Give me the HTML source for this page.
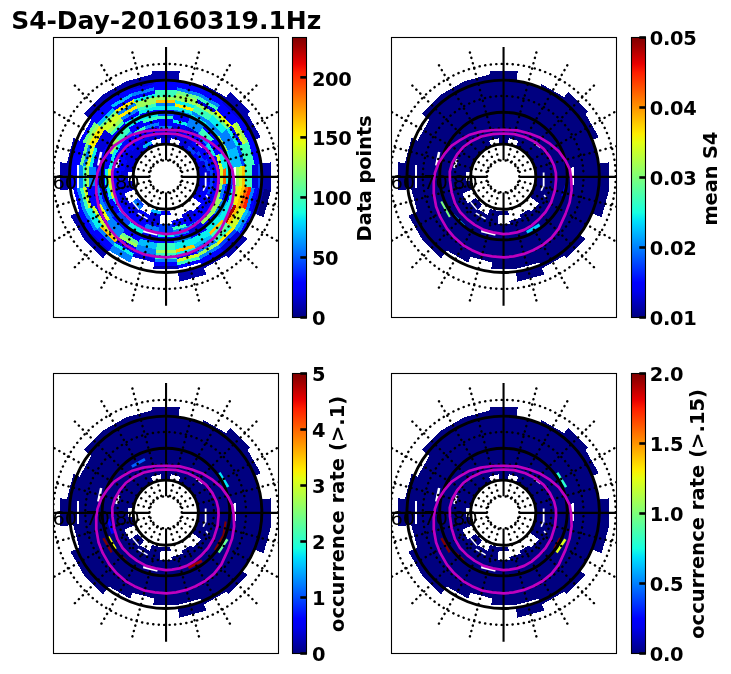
<!DOCTYPE html>
<html><head><meta charset="utf-8"><title>S4-Day-20160319.1Hz</title>
<style>
html,body{margin:0;padding:0;background:#fff;}
body{width:731px;height:674px;overflow:hidden;}
svg{display:block;}
text{font-family:"DejaVu Sans","Liberation Sans",sans-serif;fill:#000;}
.ti{font-size:25px;font-weight:bold;letter-spacing:-0.045px;}
.tk{font-size:19.44px;font-weight:bold;letter-spacing:-0.3px;}
.lb{font-size:19.44px;font-weight:bold;letter-spacing:-0.1px;}
.lat{font-size:19.44px;font-weight:normal;}
</style></head><body>
<svg width="731" height="674" viewBox="0 0 731 674">
<rect width="731" height="674" fill="#fff"/>
<defs><linearGradient id="jet" x1="0" y1="0" x2="0" y2="1"><stop offset="0.0000" stop-color="#800000"/><stop offset="0.0312" stop-color="#9f0000"/><stop offset="0.0625" stop-color="#c40000"/><stop offset="0.0938" stop-color="#e80000"/><stop offset="0.1250" stop-color="#ff1e00"/><stop offset="0.1562" stop-color="#ff3b00"/><stop offset="0.1875" stop-color="#ff5900"/><stop offset="0.2188" stop-color="#ff7700"/><stop offset="0.2500" stop-color="#ff9400"/><stop offset="0.2812" stop-color="#ffb200"/><stop offset="0.3125" stop-color="#ffd000"/><stop offset="0.3438" stop-color="#feed00"/><stop offset="0.3750" stop-color="#e4ff13"/><stop offset="0.4062" stop-color="#caff2c"/><stop offset="0.4375" stop-color="#b1ff46"/><stop offset="0.4688" stop-color="#97ff60"/><stop offset="0.5000" stop-color="#7dff7a"/><stop offset="0.5312" stop-color="#63ff94"/><stop offset="0.5625" stop-color="#49ffad"/><stop offset="0.5938" stop-color="#30ffc7"/><stop offset="0.6250" stop-color="#16ffe1"/><stop offset="0.6562" stop-color="#00e0fb"/><stop offset="0.6875" stop-color="#00c0ff"/><stop offset="0.7188" stop-color="#00a0ff"/><stop offset="0.7500" stop-color="#0080ff"/><stop offset="0.7812" stop-color="#0060ff"/><stop offset="0.8125" stop-color="#0040ff"/><stop offset="0.8438" stop-color="#0020ff"/><stop offset="0.8750" stop-color="#0000ff"/><stop offset="0.9062" stop-color="#0000ed"/><stop offset="0.9375" stop-color="#0000c8"/><stop offset="0.9688" stop-color="#0000a4"/><stop offset="1.0000" stop-color="#000080"/></linearGradient>
<clipPath id="c1"><rect x="53.5" y="37.5" width="225" height="280"/></clipPath>
<clipPath id="c2"><rect x="391.5" y="37.5" width="225" height="280"/></clipPath>
<clipPath id="c3"><rect x="53.5" y="373.5" width="225" height="280"/></clipPath>
<clipPath id="c4"><rect x="391.5" y="373.5" width="225" height="280"/></clipPath>
</defs>
<g clip-path="url(#c1)">
<g shape-rendering="crispEdges"><polygon fill="#0000da" points="161.4,144.65 160.52,138.04 170.78,138.04 169.9,144.65"/><polygon fill="#0000ad" points="160.55,138.28 160.09,134.86 171.21,134.86 170.75,138.28"/><polygon fill="#0000da" points="160.12,135.09 159.24,128.48 172.06,128.48 171.18,135.09"/><polygon fill="#0080ff" points="159.27,128.72 158.81,125.3 172.49,125.3 172.03,128.72"/><polygon fill="#0000ff" points="158.84,125.53 157.96,118.92 173.34,118.92 172.46,125.53"/><polygon fill="#39ffbe" points="157.99,119.16 157.53,115.74 173.77,115.74 173.31,119.16"/><polygon fill="#0040ff" points="157.57,115.97 157.11,112.55 174.19,112.55 173.73,115.97"/><polygon fill="#0000ff" points="157.14,112.79 156.68,109.36 174.62,109.36 174.16,112.79"/><polygon fill="#09f0ee" points="156.71,109.6 156.26,106.18 175.04,106.18 174.59,109.6"/><polygon fill="#0080ff" points="156.29,106.41 155.83,102.99 175.47,102.99 175.01,106.41"/><polygon fill="#ffc100" points="155.86,103.23 155.4,99.8 175.9,99.8 175.44,103.23"/><polygon fill="#9dff5a" points="155.43,100.04 154.98,96.62 176.32,96.62 175.87,100.04"/><polygon fill="#39ffbe" points="155.01,96.85 154.12,90.24 177.18,90.24 176.29,96.85"/><polygon fill="#0000ff" points="154.16,90.48 152.84,80.68 178.46,80.68 177.14,90.48"/><polygon fill="#0000ad" points="152.88,80.92 151.57,71.12 179.73,71.12 178.42,80.92"/><polygon fill="#0000da" points="170.59,138.26 172.27,125.27 185.48,128.81 180.44,140.9"/><polygon fill="#0000ff" points="172.24,125.51 172.69,122.08 186.72,125.84 185.39,129.03"/><polygon fill="#09f0ee" points="172.65,122.32 173.1,118.89 187.95,122.87 186.63,126.06"/><polygon fill="#0000ff" points="173.07,119.13 173.92,112.51 190.43,116.94 187.86,123.09"/><polygon fill="#0080ff" points="173.89,112.75 174.34,109.33 191.66,113.97 190.33,117.16"/><polygon fill="#09f0ee" points="174.31,109.56 174.75,106.14 192.9,111 191.57,114.19"/><polygon fill="#feed00" points="174.72,106.37 175.16,102.95 194.14,108.03 192.81,111.22"/><polygon fill="#09f0ee" points="175.13,103.19 175.58,99.76 195.37,105.06 194.04,108.25"/><polygon fill="#9dff5a" points="175.55,100 176.4,93.38 197.85,99.13 195.28,105.29"/><polygon fill="#6aff8d" points="176.37,93.62 176.82,90.2 199.08,96.16 197.75,99.35"/><polygon fill="#0080ff" points="176.78,90.43 177.23,87.01 200.32,93.19 198.99,96.38"/><polygon fill="#0000ff" points="177.2,87.24 178.05,80.63 202.79,87.26 200.23,93.42"/><polygon fill="#0000da" points="177.85,146.78 182.83,134.67 193.2,140.65 185.2,151.03"/><polygon fill="#0000ff" points="182.74,134.89 185.28,128.72 197.12,135.56 193.05,140.84"/><polygon fill="#0000da" points="185.19,128.95 186.51,125.75 199.09,133.01 196.98,135.75"/><polygon fill="#0080ff" points="186.41,125.97 190.18,116.83 204.97,125.37 198.94,133.2"/><polygon fill="#09f0ee" points="190.09,117.05 191.4,113.86 206.94,122.83 204.83,125.56"/><polygon fill="#0080ff" points="191.31,114.08 192.63,110.89 208.9,120.28 206.79,123.02"/><polygon fill="#39ffbe" points="192.53,111.11 195.07,104.94 212.82,115.19 208.75,120.47"/><polygon fill="#9dff5a" points="194.98,105.16 196.3,101.97 214.79,112.64 212.68,115.38"/><polygon fill="#0000da" points="196.21,102.19 197.52,99 216.75,110.1 214.64,112.83"/><polygon fill="#39ffbe" points="197.43,99.22 198.75,96.02 218.71,107.55 216.6,110.29"/><polygon fill="#0080ff" points="198.66,96.24 199.97,93.05 220.67,105 218.56,107.74"/><polygon fill="#0000ff" points="199.88,93.27 202.42,87.1 224.6,99.91 220.53,105.19"/><polygon fill="#0000ad" points="202.33,87.33 203.64,84.13 226.56,97.36 224.45,100.1"/><polygon fill="#0000da" points="185.1,150.95 187.19,148.2 193.85,154.86 191.1,156.95"/><polygon fill="#0040ff" points="187.05,148.39 189.14,145.65 196.4,152.91 193.66,155"/><polygon fill="#0000da" points="189,145.84 191.1,143.09 198.96,150.95 196.21,153.05"/><polygon fill="#0000ff" points="190.95,143.28 196.95,135.43 206.62,145.1 198.77,151.1"/><polygon fill="#0080ff" points="196.81,135.62 198.9,132.87 209.18,143.15 206.43,145.24"/><polygon fill="#39ffbe" points="198.76,133.07 202.81,127.76 214.29,139.24 208.98,143.29"/><polygon fill="#0000ff" points="202.66,127.96 204.76,125.21 216.84,137.29 214.09,139.39"/><polygon fill="#00bcff" points="204.61,125.4 206.71,122.66 219.39,135.34 216.65,137.44"/><polygon fill="#0080ff" points="206.57,122.85 208.66,120.1 221.95,133.39 219.2,135.48"/><polygon fill="#09f0ee" points="208.52,120.29 212.57,114.99 227.06,129.48 221.76,133.53"/><polygon fill="#6aff8d" points="212.42,115.18 214.52,112.44 229.61,127.53 226.87,129.63"/><polygon fill="#ebff0c" points="214.37,112.63 216.47,109.88 232.17,125.58 229.42,127.68"/><polygon fill="#0000ff" points="216.32,110.07 222.33,102.22 239.83,119.72 231.98,125.73"/><polygon fill="#0000da" points="222.18,102.41 224.28,99.66 242.39,117.77 239.64,119.87"/><polygon fill="#0000ad" points="224.13,99.85 230.13,92 250.05,111.92 242.2,117.92"/><polygon fill="#0000da" points="191.02,156.85 193.76,154.74 198.46,162.89 195.27,164.2"/><polygon fill="#0000ff" points="193.57,154.89 196.3,152.78 201.44,161.67 198.24,162.98"/><polygon fill="#0040ff" points="196.11,152.92 198.85,150.81 204.41,160.44 201.21,161.76"/><polygon fill="#0000ff" points="198.66,150.96 203.94,146.89 210.35,157.99 204.19,160.53"/><polygon fill="#00bcff" points="203.75,147.04 206.49,144.93 213.33,156.77 210.13,158.08"/><polygon fill="#09f0ee" points="206.3,145.07 209.04,142.96 216.3,155.54 213.1,156.86"/><polygon fill="#0000ff" points="208.85,143.11 216.68,137.08 225.22,151.87 216.08,155.64"/><polygon fill="#9dff5a" points="216.49,137.22 219.22,135.11 228.19,150.65 225,151.96"/><polygon fill="#0080ff" points="219.03,135.26 226.86,129.23 237.11,146.98 227.97,150.74"/><polygon fill="#09f0ee" points="226.67,129.37 229.41,127.26 240.08,145.75 236.89,147.07"/><polygon fill="#0000ff" points="229.22,127.41 231.95,125.3 243.05,144.53 239.86,145.84"/><polygon fill="#ceff29" points="231.76,125.45 234.5,123.34 246.03,143.3 242.83,144.62"/><polygon fill="#9dff5a" points="234.31,123.49 237.05,121.38 249,142.08 245.81,143.39"/><polygon fill="#0000ff" points="236.86,121.52 242.14,117.45 254.95,139.63 248.78,142.17"/><polygon fill="#0000ad" points="241.95,117.6 247.23,113.53 260.89,137.18 254.72,139.72"/><polygon fill="#0000da" points="195.22,164.08 204.34,160.28 207.22,171.02 197.41,172.29"/><polygon fill="#0040ff" points="204.12,160.37 207.31,159.04 210.41,170.6 206.98,171.05"/><polygon fill="#0000ff" points="207.09,159.13 216.21,155.33 219.97,169.36 210.17,170.63"/><polygon fill="#ceff29" points="215.99,155.42 219.18,154.1 223.16,168.95 219.73,169.4"/><polygon fill="#09f0ee" points="218.96,154.19 228.08,150.39 232.72,167.71 222.92,168.98"/><polygon fill="#00bcff" points="227.86,150.48 236.99,146.68 242.29,166.47 232.49,167.74"/><polygon fill="#0040ff" points="236.76,146.77 239.95,145.44 245.48,166.06 242.05,166.5"/><polygon fill="#39ffbe" points="239.73,145.53 248.86,141.73 255.04,164.82 245.24,166.09"/><polygon fill="#0000ff" points="248.63,141.82 254.79,139.26 261.42,164 254.81,164.85"/><polygon fill="#0000da" points="197.4,172.15 210.38,170.42 210.38,182.38 197.4,180.65"/><polygon fill="#0040ff" points="210.14,170.45 213.57,169.99 213.57,182.81 210.14,182.35"/><polygon fill="#0000ff" points="213.33,170.02 216.75,169.56 216.75,183.24 213.33,182.78"/><polygon fill="#0040ff" points="216.52,169.59 219.94,169.14 219.94,183.66 216.52,183.21"/><polygon fill="#ceff29" points="219.7,169.17 223.13,168.71 223.13,184.09 219.7,183.63"/><polygon fill="#ff6800" points="222.89,168.74 226.31,168.28 226.31,184.52 222.89,184.06"/><polygon fill="#09f0ee" points="226.08,168.32 229.5,167.86 229.5,184.94 226.08,184.48"/><polygon fill="#0040ff" points="229.26,167.89 232.69,167.43 232.69,185.37 229.26,184.91"/><polygon fill="#9dff5a" points="235.64,167.04 239.06,166.58 239.06,186.22 235.64,185.76"/><polygon fill="#ceff29" points="238.82,166.61 242.25,166.15 242.25,186.65 238.82,186.19"/><polygon fill="#ffc100" points="242.01,166.18 245.43,165.73 245.43,187.07 242.01,186.62"/><polygon fill="#39ffbe" points="245.2,165.76 251.81,164.87 251.81,187.93 245.2,187.04"/><polygon fill="#0000da" points="251.57,164.91 258.18,164.02 258.18,188.78 251.57,187.89"/><polygon fill="#0040ff" points="257.94,164.05 261.37,163.59 261.37,189.21 257.94,188.75"/><polygon fill="#0000ad" points="261.13,163.63 270.93,162.32 270.93,190.48 261.13,189.17"/><polygon fill="#0000da" points="197.41,180.51 207.22,181.78 204.34,192.52 195.22,188.72"/><polygon fill="#0000ff" points="206.98,181.75 210.41,182.2 207.31,193.76 204.12,192.43"/><polygon fill="#0040ff" points="210.17,182.17 213.59,182.61 210.28,194.99 207.09,193.67"/><polygon fill="#0000ff" points="213.36,182.58 219.97,183.44 216.21,197.47 210.05,194.9"/><polygon fill="#9dff5a" points="219.73,183.4 223.16,183.85 219.18,198.7 215.99,197.38"/><polygon fill="#0080ff" points="222.92,183.82 226.35,184.26 222.15,199.94 218.96,198.61"/><polygon fill="#0000ff" points="226.11,184.23 232.72,185.09 228.08,202.41 221.93,199.85"/><polygon fill="#09f0ee" points="232.49,185.06 235.91,185.5 231.05,203.65 227.86,202.32"/><polygon fill="#ceff29" points="235.68,185.47 239.1,185.91 234.02,204.89 230.83,203.56"/><polygon fill="#feed00" points="238.86,185.88 242.29,186.33 236.99,206.12 233.8,204.79"/><polygon fill="#ffc100" points="242.05,186.3 245.48,186.74 239.95,207.36 236.76,206.03"/><polygon fill="#ff6800" points="245.24,186.71 248.67,187.15 242.92,208.6 239.73,207.27"/><polygon fill="#ff1a00" points="248.43,187.12 251.85,187.57 245.89,209.83 242.7,208.5"/><polygon fill="#0080ff" points="251.62,187.53 255.04,187.98 248.86,211.07 245.67,209.74"/><polygon fill="#0000ff" points="254.81,187.95 258.23,188.39 251.82,212.31 248.63,210.98"/><polygon fill="#0000da" points="257.99,188.36 261.42,188.8 254.79,213.54 251.6,212.21"/><polygon fill="#0000ad" points="261.18,188.77 264.61,189.22 257.76,214.78 254.57,213.45"/><polygon fill="#000080" points="264.37,189.19 270.99,190.04 263.69,217.25 257.54,214.69"/><polygon fill="#0000da" points="195.27,188.6 201.44,191.13 196.3,200.02 191.02,195.95"/><polygon fill="#0000ff" points="201.21,191.04 210.35,194.81 203.94,205.91 196.11,199.88"/><polygon fill="#0000da" points="210.13,194.72 213.33,196.03 206.49,207.87 203.75,205.76"/><polygon fill="#0000ff" points="213.1,195.94 216.3,197.26 209.04,209.84 206.3,207.73"/><polygon fill="#9dff5a" points="216.08,197.16 222.24,199.7 214.13,213.76 208.85,209.69"/><polygon fill="#0080ff" points="222.02,199.61 225.22,200.93 216.68,215.72 213.94,213.61"/><polygon fill="#00bcff" points="225,200.84 228.19,202.15 219.22,217.69 216.49,215.58"/><polygon fill="#09f0ee" points="227.97,202.06 234.14,204.6 224.32,221.61 219.03,217.54"/><polygon fill="#ad0000" points="233.91,204.51 237.11,205.82 226.86,223.57 224.13,221.46"/><polygon fill="#ffc100" points="236.89,205.73 240.08,207.05 229.41,225.54 226.67,223.43"/><polygon fill="#ceff29" points="239.86,206.96 246.03,209.5 234.5,229.46 229.22,225.39"/><polygon fill="#00bcff" points="245.81,209.41 249,210.72 237.05,231.42 234.31,229.31"/><polygon fill="#0080ff" points="248.78,210.63 251.97,211.94 239.59,233.39 236.86,231.28"/><polygon fill="#0000ff" points="251.75,211.85 254.95,213.17 242.14,235.35 239.4,233.24"/><polygon fill="#0000ff" points="201.32,203.65 209.18,209.65 198.9,219.93 192.9,212.07"/><polygon fill="#0080ff" points="208.98,209.51 211.73,211.61 200.86,222.48 198.76,219.73"/><polygon fill="#9dff5a" points="211.54,211.46 214.29,213.56 202.81,225.04 200.71,222.29"/><polygon fill="#0000ff" points="214.09,213.41 216.84,215.51 204.76,227.59 202.66,224.84"/><polygon fill="#09f0ee" points="216.65,215.36 221.95,219.41 208.66,232.7 204.61,227.4"/><polygon fill="#ffc100" points="221.76,219.27 224.5,221.36 210.61,235.25 208.52,232.51"/><polygon fill="#39ffbe" points="224.31,221.22 227.06,223.32 212.57,237.81 210.47,235.06"/><polygon fill="#6aff8d" points="226.87,223.17 229.61,225.27 214.52,240.36 212.42,237.62"/><polygon fill="#39ffbe" points="229.42,225.12 232.17,227.22 216.47,242.92 214.37,240.17"/><polygon fill="#feed00" points="231.98,227.07 234.72,229.17 218.42,245.47 216.32,242.73"/><polygon fill="#0040ff" points="234.53,229.03 237.28,231.12 220.37,248.03 218.28,245.28"/><polygon fill="#0000da" points="237.09,230.98 242.39,235.03 224.28,253.14 220.23,247.84"/><polygon fill="#0000ad" points="242.2,234.88 247.5,238.93 228.18,258.25 224.13,252.95"/><polygon fill="#0000da" points="191.09,209.41 195.16,214.69 184.06,221.1 181.52,214.94"/><polygon fill="#0000ff" points="195.01,214.5 199.09,219.79 186.51,227.05 183.97,220.88"/><polygon fill="#0080ff" points="198.94,219.6 201.05,222.33 187.73,230.02 186.41,226.83"/><polygon fill="#0000da" points="200.9,222.14 204.97,227.43 190.18,235.97 187.64,229.8"/><polygon fill="#0000ff" points="204.83,227.24 206.94,229.97 191.4,238.94 190.09,235.75"/><polygon fill="#09f0ee" points="206.79,229.78 210.86,235.07 193.85,244.89 191.31,238.72"/><polygon fill="#00bcff" points="210.71,234.88 212.82,237.61 195.07,247.86 193.76,244.66"/><polygon fill="#0080ff" points="212.68,237.42 216.75,242.7 197.52,253.8 194.98,247.64"/><polygon fill="#9dff5a" points="216.6,242.51 218.71,245.25 198.75,256.78 197.43,253.58"/><polygon fill="#0080ff" points="218.56,245.06 220.67,247.8 199.97,259.75 198.66,256.56"/><polygon fill="#0000ff" points="220.53,247.61 224.6,252.89 202.42,265.7 199.88,259.53"/><polygon fill="#0000ad" points="224.45,252.7 226.56,255.44 203.64,268.67 202.33,265.47"/><polygon fill="#0000ff" points="182.92,217.84 185.48,223.99 172.27,227.53 171.42,220.92"/><polygon fill="#39ffbe" points="185.39,223.77 186.72,226.96 172.69,230.72 172.24,227.29"/><polygon fill="#0080ff" points="186.63,226.74 189.19,232.9 173.51,237.1 172.65,230.48"/><polygon fill="#0000ff" points="189.1,232.68 190.43,235.86 173.92,240.29 173.48,236.86"/><polygon fill="#0080ff" points="190.33,235.64 191.66,238.83 174.34,243.47 173.89,240.05"/><polygon fill="#09f0ee" points="191.57,238.61 194.14,244.77 175.16,249.85 174.31,243.24"/><polygon fill="#ffc100" points="194.04,244.55 195.37,247.74 175.58,253.04 175.13,249.61"/><polygon fill="#09f0ee" points="195.28,247.51 196.61,250.7 175.99,256.23 175.55,252.8"/><polygon fill="#0000ff" points="196.52,250.48 197.85,253.67 176.4,259.42 175.96,255.99"/><polygon fill="#ceff29" points="197.75,253.45 199.08,256.64 176.82,262.6 176.37,259.18"/><polygon fill="#39ffbe" points="198.99,256.42 200.32,259.61 177.23,265.79 176.78,262.37"/><polygon fill="#0000ff" points="200.23,259.38 201.56,262.57 177.64,268.98 177.2,265.56"/><polygon fill="#0000ad" points="202.7,265.32 206.5,274.44 179.29,281.74 178.02,271.93"/><polygon fill="#0000ff" points="170.32,211.33 170.78,214.76 160.52,214.76 160.98,211.33"/><polygon fill="#0040ff" points="172.03,224.08 173.34,233.88 157.96,233.88 159.27,224.08"/><polygon fill="#09f0ee" points="173.31,233.64 173.77,237.06 157.53,237.06 157.99,233.64"/><polygon fill="#0000ff" points="173.73,236.83 174.62,243.44 156.68,243.44 157.57,236.83"/><polygon fill="#39ffbe" points="174.59,243.2 175.47,249.81 155.83,249.81 156.71,243.2"/><polygon fill="#9dff5a" points="175.44,249.57 175.9,253 155.4,253 155.86,249.57"/><polygon fill="#39ffbe" points="175.87,252.76 176.75,259.37 154.55,259.37 155.43,252.76"/><polygon fill="#0080ff" points="176.72,259.13 177.18,262.56 154.12,262.56 154.58,259.13"/><polygon fill="#0000ff" points="177.14,262.32 177.6,265.74 153.7,265.74 154.16,262.32"/><polygon fill="#0000ad" points="177.57,265.51 178.03,268.93 153.27,268.93 153.73,265.51"/><polygon fill="#00bcff" points="161.12,211.35 160.68,214.78 150.77,212.12 152.09,208.93"/><polygon fill="#0000da" points="160.71,214.54 159.44,224.34 147.06,221.03 150.86,211.9"/><polygon fill="#0000ff" points="159.47,224.11 159.03,227.53 145.82,223.99 147.15,220.8"/><polygon fill="#0080ff" points="159.06,227.29 158.2,233.91 143.35,229.93 145.91,223.77"/><polygon fill="#0000ff" points="158.23,233.67 157.79,237.1 142.11,232.9 143.44,229.71"/><polygon fill="#0000da" points="157.82,236.86 157.38,240.29 140.87,235.86 142.2,232.68"/><polygon fill="#0000ff" points="157.41,240.05 156.96,243.47 139.64,238.83 140.97,235.64"/><polygon fill="#00bcff" points="156.99,243.24 156.14,249.85 137.16,244.77 139.73,238.61"/><polygon fill="#0080ff" points="156.17,249.61 155.31,256.23 134.69,250.7 137.26,244.55"/><polygon fill="#0000ff" points="155.34,255.99 154.9,259.42 133.45,253.67 134.78,250.48"/><polygon fill="#0000da" points="154.93,259.18 154.48,262.6 132.22,256.64 133.55,253.45"/><polygon fill="#0000ff" points="149.78,214.94 148.47,218.13 138.1,212.15 140.21,209.41"/><polygon fill="#0000da" points="148.56,217.91 147.24,221.1 136.14,214.69 138.25,211.96"/><polygon fill="#0000ff" points="147.33,220.88 143.57,230.02 130.25,222.33 136.29,214.5"/><polygon fill="#09f0ee" points="143.66,229.8 141.12,235.97 126.33,227.43 130.4,222.14"/><polygon fill="#0000ff" points="141.21,235.75 138.67,241.91 122.4,232.52 126.47,227.24"/><polygon fill="#6aff8d" points="138.77,241.69 137.45,244.89 120.44,235.07 122.55,232.33"/><polygon fill="#9dff5a" points="137.54,244.66 136.23,247.86 118.48,237.61 120.59,234.88"/><polygon fill="#0000ff" points="136.32,247.64 133.78,253.8 114.55,242.7 118.62,237.42"/><polygon fill="#09f0ee" points="133.87,253.58 132.55,256.78 112.59,245.25 114.7,242.51"/><polygon fill="#0080ff" points="132.64,256.56 130.11,262.72 108.66,250.34 112.74,245.06"/><polygon fill="#0040ff" points="144.25,204.41 142.16,207.15 134.9,199.89 137.64,197.8"/><polygon fill="#0080ff" points="142.3,206.96 140.2,209.71 132.34,201.85 135.09,199.75"/><polygon fill="#0000da" points="140.35,209.52 136.3,214.82 127.23,205.75 132.53,201.7"/><polygon fill="#0000ff" points="136.45,214.63 132.4,219.93 122.12,209.65 127.42,205.6"/><polygon fill="#09f0ee" points="132.54,219.73 130.44,222.48 119.57,211.61 122.32,209.51"/><polygon fill="#0040ff" points="130.59,222.29 126.54,227.59 114.46,215.51 119.76,211.46"/><polygon fill="#0000ff" points="126.69,227.4 124.59,230.14 111.91,217.46 114.65,215.36"/><polygon fill="#0080ff" points="124.73,229.95 118.73,237.81 104.24,223.32 112.1,217.32"/><polygon fill="#ceff29" points="118.88,237.62 116.78,240.36 101.69,225.27 104.43,223.17"/><polygon fill="#ffc100" points="116.93,240.17 114.83,242.92 99.13,227.22 101.88,225.12"/><polygon fill="#0080ff" points="114.98,242.73 112.88,245.47 96.58,229.17 99.32,227.07"/><polygon fill="#0000ff" points="113.02,245.28 108.97,250.58 91.47,233.08 96.77,229.03"/><polygon fill="#0000da" points="109.12,250.39 107.02,253.14 88.91,235.03 91.66,232.93"/><polygon fill="#0000ad" points="107.17,252.95 103.12,258.25 83.8,238.93 89.1,234.88"/><polygon fill="#0000da" points="130.09,203.8 124.81,207.87 117.97,196.03 124.14,193.49"/><polygon fill="#0000ff" points="125,207.73 122.26,209.84 115,197.26 118.2,195.94"/><polygon fill="#09f0ee" points="122.45,209.69 119.72,211.8 112.03,198.48 115.22,197.16"/><polygon fill="#0000ff" points="119.91,211.65 114.62,215.72 106.08,200.93 112.25,198.39"/><polygon fill="#0040ff" points="114.81,215.58 112.08,217.69 103.11,202.15 106.3,200.84"/><polygon fill="#0080ff" points="112.27,217.54 109.53,219.65 100.14,203.38 103.33,202.06"/><polygon fill="#ebff0c" points="109.72,219.5 106.98,221.61 97.16,204.6 100.36,203.28"/><polygon fill="#0000ff" points="107.17,221.46 104.44,223.57 94.19,205.82 97.39,204.51"/><polygon fill="#ceff29" points="104.63,223.43 101.89,225.54 91.22,207.05 94.41,205.73"/><polygon fill="#09f0ee" points="102.08,225.39 96.8,229.46 85.27,209.5 91.44,206.96"/><polygon fill="#0080ff" points="96.99,229.31 94.25,231.42 82.3,210.72 85.49,209.41"/><polygon fill="#0000ff" points="94.44,231.28 89.16,235.35 76.35,213.17 82.52,210.63"/><polygon fill="#0000ad" points="89.35,235.2 84.07,239.27 70.41,215.62 76.58,213.08"/><polygon fill="#0000da" points="136.08,188.72 121.02,194.99 117.71,182.61 133.89,180.51"/><polygon fill="#0000ff" points="121.25,194.9 115.09,197.47 111.33,183.44 117.94,182.58"/><polygon fill="#ceff29" points="115.31,197.38 112.12,198.7 108.14,183.85 111.57,183.4"/><polygon fill="#09f0ee" points="112.34,198.61 109.15,199.94 104.95,184.26 108.38,183.82"/><polygon fill="#0000ff" points="109.37,199.85 103.22,202.41 98.58,185.09 105.19,184.23"/><polygon fill="#0080ff" points="103.44,202.32 100.25,203.65 95.39,185.5 98.81,185.06"/><polygon fill="#0000ff" points="100.47,203.56 91.35,207.36 85.82,186.74 95.62,185.47"/><polygon fill="#ceff29" points="91.57,207.27 88.38,208.6 82.63,187.15 86.06,186.71"/><polygon fill="#39ffbe" points="88.6,208.5 85.41,209.83 79.45,187.57 82.87,187.12"/><polygon fill="#0080ff" points="85.63,209.74 82.44,211.07 76.26,187.98 79.68,187.53"/><polygon fill="#0000ff" points="82.67,210.98 79.48,212.31 73.07,188.39 76.49,187.95"/><polygon fill="#0000da" points="127.53,181.5 120.92,182.38 120.92,170.42 127.53,171.3"/><polygon fill="#0000ff" points="121.16,182.35 111.36,183.66 111.36,169.14 121.16,170.45"/><polygon fill="#ceff29" points="111.6,183.63 108.17,184.09 108.17,168.71 111.6,169.17"/><polygon fill="#09f0ee" points="108.41,184.06 104.99,184.52 104.99,168.28 108.41,168.74"/><polygon fill="#0000ff" points="105.22,184.48 95.43,185.79 95.43,167.01 105.22,168.32"/><polygon fill="#0080ff" points="95.66,185.76 89.05,186.65 89.05,166.15 95.66,167.04"/><polygon fill="#9dff5a" points="89.29,186.62 85.87,187.07 85.87,165.73 89.29,166.18"/><polygon fill="#39ffbe" points="86.1,187.04 82.68,187.5 82.68,165.3 86.1,165.76"/><polygon fill="#0080ff" points="82.92,187.47 79.49,187.93 79.49,164.87 82.92,165.33"/><polygon fill="#0000ff" points="76.54,188.32 69.93,189.21 69.93,163.59 76.54,164.48"/><polygon fill="#0000ad" points="70.17,189.17 60.37,190.48 60.37,162.32 70.17,163.63"/><polygon fill="#0000da" points="133.89,172.29 124.08,171.02 126.96,160.28 136.08,164.08"/><polygon fill="#0000ff" points="124.32,171.05 111.33,169.36 115.09,155.33 127.18,160.37"/><polygon fill="#09f0ee" points="111.57,169.4 108.14,168.95 112.12,154.1 115.31,155.42"/><polygon fill="#0000ff" points="108.38,168.98 98.58,167.71 103.22,150.39 112.34,154.19"/><polygon fill="#0000da" points="98.81,167.74 92.2,166.89 97.28,147.91 103.44,150.48"/><polygon fill="#09f0ee" points="92.44,166.92 89.01,166.47 94.31,146.68 97.5,148.01"/><polygon fill="#ceff29" points="89.25,166.5 85.82,166.06 91.35,145.44 94.54,146.77"/><polygon fill="#0080ff" points="86.06,166.09 82.63,165.65 88.38,144.2 91.57,145.53"/><polygon fill="#6aff8d" points="82.87,165.68 79.45,165.23 85.41,142.97 88.6,144.3"/><polygon fill="#0000ff" points="79.68,165.27 69.88,164 76.51,139.26 85.63,143.06"/><polygon fill="#0000ad" points="70.12,164.03 66.69,163.58 73.54,138.02 76.73,139.35"/><polygon fill="#0000da" points="136.03,164.2 123.92,159.22 129.9,148.85 140.28,156.85"/><polygon fill="#0000ff" points="124.14,159.31 115,155.54 122.26,142.96 130.09,149"/><polygon fill="#09f0ee" points="115.22,155.64 112.03,154.32 119.72,141 122.45,143.11"/><polygon fill="#9dff5a" points="112.25,154.41 106.08,151.87 114.62,137.08 119.91,141.15"/><polygon fill="#0000ff" points="106.3,151.96 103.11,150.65 112.08,135.11 114.81,137.22"/><polygon fill="#0000da" points="103.33,150.74 94.19,146.98 104.44,129.23 112.27,135.26"/><polygon fill="#feed00" points="94.41,147.07 88.25,144.53 99.35,125.3 104.63,129.37"/><polygon fill="#9dff5a" points="88.47,144.62 85.27,143.3 96.8,123.34 99.54,125.45"/><polygon fill="#6aff8d" points="85.49,143.39 82.3,142.08 94.25,121.38 96.99,123.49"/><polygon fill="#0000ff" points="82.52,142.17 79.33,140.86 91.71,119.41 94.44,121.52"/><polygon fill="#0000da" points="140.2,156.95 132.34,150.95 140.2,143.09 146.2,150.95"/><polygon fill="#0000ff" points="132.53,151.1 122.12,143.15 132.4,132.87 140.35,143.28"/><polygon fill="#0080ff" points="122.32,143.29 119.57,141.19 130.44,130.32 132.54,133.07"/><polygon fill="#39ffbe" points="119.76,141.34 114.46,137.29 126.54,125.21 130.59,130.51"/><polygon fill="#0000ff" points="114.65,137.44 111.91,135.34 124.59,122.66 126.69,125.4"/><polygon fill="#39ffbe" points="112.1,135.48 109.35,133.39 122.64,120.1 124.73,122.85"/><polygon fill="#9dff5a" points="109.54,133.53 106.8,131.44 120.69,117.55 122.78,120.29"/><polygon fill="#ceff29" points="106.99,131.58 101.69,127.53 116.78,112.44 120.83,117.74"/><polygon fill="#6aff8d" points="101.88,127.68 99.13,125.58 114.83,109.88 116.93,112.63"/><polygon fill="#00bcff" points="99.32,125.73 96.58,123.63 112.88,107.33 114.98,110.07"/><polygon fill="#0000ff" points="96.77,123.77 88.91,117.77 107.02,99.66 113.02,107.52"/><polygon fill="#0000ad" points="89.1,117.92 83.8,113.87 103.12,94.55 107.17,99.85"/><polygon fill="#0000da" points="146.1,151.03 143.99,148.29 152.14,143.59 153.45,146.78"/><polygon fill="#00bcff" points="144.14,148.48 142.03,145.75 150.92,140.61 152.23,143.81"/><polygon fill="#0000da" points="142.17,145.94 140.06,143.2 149.69,137.64 151.01,140.84"/><polygon fill="#0000ff" points="140.21,143.39 134.18,135.56 146.02,128.72 149.78,137.86"/><polygon fill="#39ffbe" points="134.32,135.75 132.21,133.01 144.79,125.75 146.11,128.95"/><polygon fill="#0000ff" points="132.36,133.2 128.29,127.92 142.35,119.81 144.89,125.97"/><polygon fill="#09f0ee" points="128.44,128.11 124.36,122.83 139.9,113.86 142.44,120.03"/><polygon fill="#0000ff" points="124.51,123.02 122.4,120.28 138.67,110.89 139.99,114.08"/><polygon fill="#0080ff" points="122.55,120.47 120.44,117.73 137.45,107.91 138.77,111.11"/><polygon fill="#feed00" points="120.59,117.92 118.48,115.19 136.23,104.94 137.54,108.14"/><polygon fill="#0080ff" points="118.62,115.38 116.51,112.64 135,101.97 136.32,105.16"/><polygon fill="#feed00" points="116.66,112.83 114.55,110.1 133.78,99 135.09,102.19"/><polygon fill="#0000ff" points="114.7,110.29 112.59,107.55 132.55,96.02 133.87,99.22"/><polygon fill="#00bcff" points="112.74,107.74 110.63,105 131.33,93.05 132.64,96.24"/><polygon fill="#0000ff" points="110.77,105.19 106.7,99.91 128.88,87.1 131.42,93.27"/><polygon fill="#0000ad" points="106.85,100.1 102.78,94.82 126.43,81.16 128.97,87.33"/><polygon fill="#0000da" points="150.86,140.9 148.29,134.74 159.85,131.64 160.71,138.26"/><polygon fill="#0000ff" points="148.38,134.96 145.82,128.81 159.03,125.27 159.88,131.88"/><polygon fill="#0080ff" points="145.91,129.03 144.58,125.84 158.61,122.08 159.06,125.51"/><polygon fill="#0000ff" points="144.67,126.06 143.35,122.87 158.2,118.89 158.65,122.32"/><polygon fill="#39ffbe" points="143.44,123.09 142.11,119.9 157.79,115.7 158.23,119.13"/><polygon fill="#09f0ee" points="142.2,120.12 140.87,116.94 157.38,112.51 157.82,115.94"/><polygon fill="#0000ff" points="140.97,117.16 139.64,113.97 156.96,109.33 157.41,112.75"/><polygon fill="#09f0ee" points="139.73,114.19 138.4,111 156.55,106.14 156.99,109.56"/><polygon fill="#39ffbe" points="138.49,111.22 137.16,108.03 156.14,102.95 156.58,106.37"/><polygon fill="#9dff5a" points="137.26,108.25 134.69,102.1 155.31,96.57 156.17,103.19"/><polygon fill="#09f0ee" points="134.78,102.32 133.45,99.13 154.9,93.38 155.34,96.81"/><polygon fill="#0000ff" points="133.55,99.35 132.22,96.16 154.48,90.2 154.93,93.62"/><polygon fill="#0080ff" points="132.31,96.38 130.98,93.19 154.07,87.01 154.52,90.43"/><polygon fill="#0000ff" points="131.07,93.42 129.74,90.23 153.66,83.82 154.1,87.24"/><polygon fill="#0000da" points="129.84,90.45 128.51,87.26 153.25,80.63 153.69,84.06"/><polygon fill="#0000ad" points="128.6,87.48 126.03,81.32 152.42,74.25 153.28,80.87"/></g>
<path d="M205.65 172.4L205.65 186.4" stroke="#fff" stroke-width="1.8" fill="none"/><path d="M205.05 186.4L203.25 190.7" stroke="#fff" stroke-width="1.6" fill="none"/><path d="M206.05 195L208.45 198" stroke="#fff" stroke-width="1.6" fill="none"/><path d="M196.05 142.7L202.25 147.6" stroke="#fff" stroke-width="1.4" fill="none"/><path d="M101.15 151.9L98.25 165.4" stroke="#fff" stroke-width="2.5" fill="none"/><path d="M119.25 159.3L116.15 167.9" stroke="#fff" stroke-width="2.3" fill="none"/><path d="M132.75 202.2L138.95 209.6" stroke="#fff" stroke-width="1.4" fill="none"/><path d="M137.75 213.2L147.55 218.8" stroke="#fff" stroke-width="1.5" fill="none"/><path d="M143.25 231.1L157.45 234.8" stroke="#fff" stroke-width="2.2" fill="none"/>
<path d="M198.88 52.38L169.92 160.46M229.85 65.2L173.9 162.11M256.44 85.61L177.32 164.73M276.85 112.2L179.94 168.15M289.67 143.17L181.59 172.13M289.67 209.63L181.59 180.67M276.85 240.6L179.94 184.65M256.44 267.19L177.32 188.07M229.85 287.6L173.9 190.69M198.88 300.42L169.92 192.34M132.42 300.42L161.38 192.34M101.45 287.6L157.4 190.69M74.86 267.19L153.98 188.07M54.45 240.6L151.36 184.65M41.63 209.63L149.71 180.67M41.63 143.17L149.71 172.13M54.45 112.2L151.36 168.15M74.86 85.61L153.98 164.73M101.45 65.2L157.4 162.11M132.42 52.38L161.38 160.46" fill="none" stroke="#000" stroke-width="2.4" stroke-linecap="round" stroke-dasharray="0.2 5.36"/><circle cx="165.65" cy="176.4" r="16.07" fill="none" stroke="#000" stroke-width="2.4" stroke-linecap="round" stroke-dasharray="0.2 5.36" stroke-dashoffset="0"/><circle cx="165.65" cy="176.4" r="48.22" fill="none" stroke="#000" stroke-width="2.4" stroke-linecap="round" stroke-dasharray="0.2 5.36" stroke-dashoffset="0"/><circle cx="165.65" cy="176.4" r="80.38" fill="none" stroke="#000" stroke-width="2.4" stroke-linecap="round" stroke-dasharray="0.2 5.36" stroke-dashoffset="1.7"/><circle cx="165.65" cy="176.4" r="112.52" fill="none" stroke="#000" stroke-width="2.4" stroke-linecap="round" stroke-dasharray="0.2 5.36" stroke-dashoffset="0"/><circle cx="165.75" cy="176.7" r="32.6" fill="none" stroke="#000" stroke-width="2.9"/><circle cx="165.95" cy="176.1" r="63.8" fill="none" stroke="#000" stroke-width="2.9"/><circle cx="165.65" cy="176.3" r="96.2" fill="none" stroke="#000" stroke-width="2.9"/><path d="M166.05 47V160.33M166.05 192.47V305.8" stroke="#000" stroke-width="2.1" fill="none"/><path d="M36.25 176.9H149.58M181.72 176.9H295.05" stroke="#000" stroke-width="2.2" fill="none"/>
<polygon points="166.44,129.8 179.72,130.4 191.92,133.5 202.92,137.8 212.73,143.9 221.26,151.3 228,160.6 232.26,169.2 233.65,178.4 234.15,190.4 232.16,202.4 228,213.9 221.26,228.6 213.92,237.9 204.8,245.3 195.58,250.2 186.46,253.9 176.06,256.4 166.44,257.4 154.77,256.4 144.47,254.5 134.41,250.2 125.88,245.3 116.76,237.3 109.43,228.6 102.69,216.9 98.6,206.5 96.3,193.5 96.26,181.4 97.45,172.9 101.11,163 106.66,154.4 113.9,145.8 122.53,140.2 132.24,134.7 143.24,131.6 155.44,130" fill="none" stroke="#bf00bf" stroke-width="2.7" stroke-linejoin="round"/><polygon points="166,133.5 176.91,134.1 187.82,137.2 197.63,142.1 206.16,148.9 212.31,156.9 216.57,165.5 218.36,172.9 218.55,179.4 217.56,189.9 213.5,202.8 208.04,212 201.3,219.4 193.96,225.6 186.63,229.9 179.29,232.4 171.95,233.6 166,234.2 155.43,232.4 146.25,229.9 137.23,224.9 129.89,219.4 122.55,212 117.55,203.4 114.13,192.3 112.45,180.4 112.26,171.6 114.73,163 119.59,154.4 125.74,147 134.27,140.9 143.99,136.5 154.99,134.1" fill="none" stroke="#bf00bf" stroke-width="2.7" stroke-linejoin="round"/>
<text x="52.4" y="188.9" class="lat">60</text>
<text x="85.2" y="188.9" class="lat">70</text>
<text x="114.9" y="188.9" class="lat">80</text>
</g>
<rect x="53.5" y="37.5" width="225" height="280" fill="none" stroke="#000" stroke-width="1.1"/>
<rect x="292.5" y="37.5" width="14" height="280" fill="url(#jet)" stroke="#000" stroke-width="1.1"/>
<path d="M300.3 317.5H306.9" stroke="#000" stroke-width="2.6"/>
<text x="311.9" y="325" class="tk">0</text>
<path d="M300.3 257.47H306.9" stroke="#000" stroke-width="2.6"/>
<text x="311.9" y="265" class="tk">50</text>
<path d="M300.3 197.43H306.9" stroke="#000" stroke-width="2.6"/>
<text x="311.9" y="205" class="tk">100</text>
<path d="M300.3 137.4H306.9" stroke="#000" stroke-width="2.6"/>
<text x="311.9" y="145" class="tk">150</text>
<path d="M300.3 77.36H306.9" stroke="#000" stroke-width="2.6"/>
<text x="311.9" y="86" class="tk">200</text>
<text transform="translate(370.9 178.4) rotate(-90)" class="lb" text-anchor="middle" style="letter-spacing:-0.1px">Data points</text>
<g clip-path="url(#c2)">
<g shape-rendering="crispEdges"><polygon fill="#000080" points="499.4,144.65 489.57,71.12 517.73,71.12 507.9,144.65"/><polygon fill="#000080" points="508.59,138.26 516.05,80.63 540.79,87.26 518.44,140.9"/><polygon fill="#000080" points="515.85,146.78 541.64,84.13 564.56,97.36 523.2,151.03"/><polygon fill="#000080" points="523.1,150.95 568.13,92 588.05,111.92 529.1,156.95"/><polygon fill="#000080" points="529.02,156.85 585.23,113.53 598.89,137.18 533.27,164.2"/><polygon fill="#000080" points="533.22,164.08 592.79,139.26 599.42,164 535.41,172.29"/><polygon fill="#000080" points="535.4,172.15 570.69,167.43 570.69,185.37 535.4,180.65"/><polygon fill="#000080" points="573.64,167.04 608.93,162.32 608.93,190.48 573.64,185.76"/><polygon fill="#000080" points="535.41,180.51 608.99,190.04 601.69,217.25 533.22,188.72"/><polygon fill="#000080" points="533.27,188.6 592.95,213.17 580.14,235.35 529.02,195.95"/><polygon fill="#000080" points="539.32,203.65 585.5,238.93 566.18,258.25 530.9,212.07"/><polygon fill="#000080" points="529.09,209.41 564.56,255.44 541.64,268.67 519.52,214.94"/><polygon fill="#000080" points="520.92,217.84 539.56,262.57 515.64,268.98 509.42,220.92"/><polygon fill="#000080" points="540.7,265.32 544.5,274.44 517.29,281.74 516.02,271.93"/><polygon fill="#000080" points="508.32,211.33 508.78,214.76 498.52,214.76 498.98,211.33"/><polygon fill="#000080" points="510.03,224.08 516.03,268.93 491.27,268.93 497.27,224.08"/><polygon fill="#000080" points="499.12,211.35 492.48,262.6 470.22,256.64 490.09,208.93"/><polygon fill="#000080" points="487.78,214.94 468.11,262.72 446.66,250.34 478.21,209.41"/><polygon fill="#000080" points="482.25,204.41 441.12,258.25 421.8,238.93 475.64,197.8"/><polygon fill="#000080" points="468.09,203.8 422.07,239.27 408.41,215.62 462.14,193.49"/><polygon fill="#000080" points="474.08,188.72 417.48,212.31 411.07,188.39 471.89,180.51"/><polygon fill="#000080" points="465.53,181.5 417.49,187.93 417.49,164.87 465.53,171.3"/><polygon fill="#000080" points="414.54,188.32 398.37,190.48 398.37,162.32 414.54,164.48"/><polygon fill="#000080" points="471.89,172.29 404.69,163.58 411.54,138.02 474.08,164.08"/><polygon fill="#000080" points="474.03,164.2 417.33,140.86 429.71,119.41 478.28,156.85"/><polygon fill="#000080" points="478.2,156.95 421.8,113.87 441.12,94.55 484.2,150.95"/><polygon fill="#000080" points="484.1,151.03 440.78,94.82 464.43,81.16 491.45,146.78"/><polygon fill="#000080" points="488.86,140.9 464.03,81.32 490.42,74.25 498.71,138.26"/></g>
<path d="M543.65 172.4L543.65 186.4" stroke="#fff" stroke-width="1.8" fill="none"/><path d="M543.05 186.4L541.25 190.7" stroke="#fff" stroke-width="1.6" fill="none"/><path d="M544.05 195L546.45 198" stroke="#fff" stroke-width="1.6" fill="none"/><path d="M534.05 142.7L540.25 147.6" stroke="#fff" stroke-width="1.4" fill="none"/><path d="M439.15 151.9L436.25 165.4" stroke="#fff" stroke-width="2.5" fill="none"/><path d="M457.25 159.3L454.15 167.9" stroke="#fff" stroke-width="2.3" fill="none"/><path d="M470.75 202.2L476.95 209.6" stroke="#fff" stroke-width="1.4" fill="none"/><path d="M475.75 213.2L485.55 218.8" stroke="#fff" stroke-width="1.5" fill="none"/><path d="M481.25 231.1L495.45 234.8" stroke="#fff" stroke-width="2.2" fill="none"/><path d="M441.25 201.5L449.85 216.9" stroke="#7dff7a" stroke-width="2.03" fill="none"/><path d="M453.55 214.5L464.65 225.6" stroke="#00a8ff" stroke-width="1.45" fill="none"/><path d="M526.75 232.3L539.65 224.9" stroke="#00d0ff" stroke-width="3.04" fill="none"/><path d="M565.55 185.2L561.85 196.3" stroke="#0000f1" stroke-width="1.45" fill="none"/>
<path d="M536.38 52.38L507.42 160.46M567.35 65.2L511.4 162.11M593.94 85.61L514.82 164.73M614.35 112.2L517.44 168.15M627.17 143.17L519.09 172.13M627.17 209.63L519.09 180.67M614.35 240.6L517.44 184.65M593.94 267.19L514.82 188.07M567.35 287.6L511.4 190.69M536.38 300.42L507.42 192.34M469.92 300.42L498.88 192.34M438.95 287.6L494.9 190.69M412.36 267.19L491.48 188.07M391.95 240.6L488.86 184.65M379.13 209.63L487.21 180.67M379.13 143.17L487.21 172.13M391.95 112.2L488.86 168.15M412.36 85.61L491.48 164.73M438.95 65.2L494.9 162.11M469.92 52.38L498.88 160.46" fill="none" stroke="#000" stroke-width="2.4" stroke-linecap="round" stroke-dasharray="0.2 5.36"/><circle cx="503.15" cy="176.4" r="16.07" fill="none" stroke="#000" stroke-width="2.4" stroke-linecap="round" stroke-dasharray="0.2 5.36" stroke-dashoffset="0"/><circle cx="503.15" cy="176.4" r="48.22" fill="none" stroke="#000" stroke-width="2.4" stroke-linecap="round" stroke-dasharray="0.2 5.36" stroke-dashoffset="0"/><circle cx="503.15" cy="176.4" r="80.38" fill="none" stroke="#000" stroke-width="2.4" stroke-linecap="round" stroke-dasharray="0.2 5.36" stroke-dashoffset="1.7"/><circle cx="503.15" cy="176.4" r="112.52" fill="none" stroke="#000" stroke-width="2.4" stroke-linecap="round" stroke-dasharray="0.2 5.36" stroke-dashoffset="0"/><circle cx="503.25" cy="176.7" r="32.6" fill="none" stroke="#000" stroke-width="2.9"/><circle cx="503.45" cy="176.1" r="63.8" fill="none" stroke="#000" stroke-width="2.9"/><circle cx="503.15" cy="176.3" r="96.2" fill="none" stroke="#000" stroke-width="2.9"/><path d="M503.55 47V160.33M503.55 192.47V305.8" stroke="#000" stroke-width="2.1" fill="none"/><path d="M373.75 176.9H487.07M519.23 176.9H632.55" stroke="#000" stroke-width="2.2" fill="none"/>
<polygon points="503.94,129.8 517.22,130.4 529.42,133.5 540.42,137.8 550.23,143.9 558.76,151.3 565.5,160.6 569.76,169.2 571.15,178.4 571.65,190.4 569.66,202.4 565.5,213.9 558.76,228.6 551.42,237.9 542.3,245.3 533.08,250.2 523.96,253.9 513.56,256.4 503.94,257.4 492.27,256.4 481.97,254.5 471.91,250.2 463.38,245.3 454.26,237.3 446.93,228.6 440.19,216.9 436.1,206.5 433.8,193.5 433.76,181.4 434.95,172.9 438.61,163 444.16,154.4 451.4,145.8 460.03,140.2 469.74,134.7 480.74,131.6 492.94,130" fill="none" stroke="#bf00bf" stroke-width="2.7" stroke-linejoin="round"/><polygon points="503.5,133.5 514.41,134.1 525.32,137.2 535.13,142.1 543.66,148.9 549.81,156.9 554.07,165.5 555.86,172.9 556.05,179.4 555.06,189.9 551,202.8 545.54,212 538.8,219.4 531.46,225.6 524.13,229.9 516.79,232.4 509.45,233.6 503.5,234.2 492.93,232.4 483.75,229.9 474.73,224.9 467.39,219.4 460.05,212 455.05,203.4 451.63,192.3 449.95,180.4 449.76,171.6 452.23,163 457.09,154.4 463.24,147 471.77,140.9 481.49,136.5 492.49,134.1" fill="none" stroke="#bf00bf" stroke-width="2.7" stroke-linejoin="round"/>
<text x="390.4" y="188.9" class="lat">60</text>
<text x="423.2" y="188.9" class="lat">70</text>
<text x="452.9" y="188.9" class="lat">80</text>
</g>
<rect x="391.5" y="37.5" width="225" height="280" fill="none" stroke="#000" stroke-width="1.1"/>
<rect x="631.5" y="37.5" width="14" height="280" fill="url(#jet)" stroke="#000" stroke-width="1.1"/>
<path d="M639.3 317.5H645.9" stroke="#000" stroke-width="2.6"/>
<text x="649.7" y="325" class="tk">0.01</text>
<path d="M639.3 247.5H645.9" stroke="#000" stroke-width="2.6"/>
<text x="649.7" y="255" class="tk">0.02</text>
<path d="M639.3 177.5H645.9" stroke="#000" stroke-width="2.6"/>
<text x="649.7" y="185" class="tk">0.03</text>
<path d="M639.3 107.5H645.9" stroke="#000" stroke-width="2.6"/>
<text x="649.7" y="115" class="tk">0.04</text>
<path d="M639.3 37.5H645.9" stroke="#000" stroke-width="2.6"/>
<text x="649.7" y="45" class="tk">0.05</text>
<text transform="translate(716.8 178.6) rotate(-90)" class="lb" text-anchor="middle" style="letter-spacing:-0.1px">mean S4</text>
<g clip-path="url(#c3)">
<g shape-rendering="crispEdges"><polygon fill="#000080" points="161.4,480.65 151.57,407.12 179.73,407.12 169.9,480.65"/><polygon fill="#000080" points="170.59,474.26 178.05,416.63 202.79,423.26 180.44,476.9"/><polygon fill="#000080" points="177.85,482.78 203.64,420.13 226.56,433.36 185.2,487.03"/><polygon fill="#000080" points="185.1,486.95 230.13,428 250.05,447.92 191.1,492.95"/><polygon fill="#000080" points="191.02,492.85 247.23,449.53 260.89,473.18 195.27,500.2"/><polygon fill="#000080" points="195.22,500.08 254.79,475.26 261.42,500 197.41,508.29"/><polygon fill="#000080" points="197.4,508.15 232.69,503.43 232.69,521.37 197.4,516.65"/><polygon fill="#000080" points="235.64,503.04 270.93,498.32 270.93,526.48 235.64,521.76"/><polygon fill="#000080" points="197.41,516.51 270.99,526.04 263.69,553.25 195.22,524.72"/><polygon fill="#000080" points="195.27,524.6 254.95,549.17 242.14,571.35 191.02,531.95"/><polygon fill="#000080" points="201.32,539.65 247.5,574.93 228.18,594.25 192.9,548.07"/><polygon fill="#000080" points="191.09,545.41 226.56,591.44 203.64,604.67 181.52,550.94"/><polygon fill="#000080" points="182.92,553.84 201.56,598.57 177.64,604.98 171.42,556.92"/><polygon fill="#000080" points="202.7,601.32 206.5,610.44 179.29,617.74 178.02,607.93"/><polygon fill="#000080" points="170.32,547.33 170.78,550.76 160.52,550.76 160.98,547.33"/><polygon fill="#000080" points="172.03,560.08 178.03,604.93 153.27,604.93 159.27,560.08"/><polygon fill="#000080" points="161.12,547.35 154.48,598.6 132.22,592.64 152.09,544.93"/><polygon fill="#000080" points="149.78,550.94 130.11,598.72 108.66,586.34 140.21,545.41"/><polygon fill="#000080" points="144.25,540.41 103.12,594.25 83.8,574.93 137.64,533.8"/><polygon fill="#000080" points="130.09,539.8 84.07,575.27 70.41,551.62 124.14,529.49"/><polygon fill="#000080" points="136.08,524.72 79.48,548.31 73.07,524.39 133.89,516.51"/><polygon fill="#000080" points="127.53,517.5 79.49,523.93 79.49,500.87 127.53,507.3"/><polygon fill="#000080" points="76.54,524.32 60.37,526.48 60.37,498.32 76.54,500.48"/><polygon fill="#000080" points="133.89,508.29 66.69,499.58 73.54,474.02 136.08,500.08"/><polygon fill="#000080" points="136.03,500.2 79.33,476.86 91.71,455.41 140.28,492.85"/><polygon fill="#000080" points="140.2,492.95 83.8,449.87 103.12,430.55 146.2,486.95"/><polygon fill="#000080" points="146.1,487.03 102.78,430.82 126.43,417.16 153.45,482.78"/><polygon fill="#000080" points="150.86,476.9 126.03,417.32 152.42,410.25 160.71,474.26"/></g>
<path d="M205.65 508.4L205.65 522.4" stroke="#fff" stroke-width="1.8" fill="none"/><path d="M205.05 522.4L203.25 526.7" stroke="#fff" stroke-width="1.6" fill="none"/><path d="M206.05 531L208.45 534" stroke="#fff" stroke-width="1.6" fill="none"/><path d="M196.05 478.7L202.25 483.6" stroke="#fff" stroke-width="1.4" fill="none"/><path d="M101.15 487.9L98.25 501.4" stroke="#fff" stroke-width="2.5" fill="none"/><path d="M119.25 495.3L116.15 503.9" stroke="#fff" stroke-width="2.3" fill="none"/><path d="M132.75 538.2L138.95 545.6" stroke="#fff" stroke-width="1.4" fill="none"/><path d="M137.75 549.2L147.55 554.8" stroke="#fff" stroke-width="1.5" fill="none"/><path d="M143.25 567.1L157.45 570.8" stroke="#fff" stroke-width="2.2" fill="none"/><path d="M131.85 466.4L144.95 459.3" stroke="#0060ff" stroke-width="2.9" fill="none"/><path d="M219.25 472.8L228.05 487.1" stroke="#00e4f8" stroke-width="2.9" fill="none"/><path d="M108.05 519.1L112.85 533.4" stroke="#0000ff" stroke-width="3.19" fill="none"/><path d="M108.45 536.7L115.65 549" stroke="#eeff09" stroke-width="2.46" fill="none"/><path d="M103.35 538.1L111.65 552.4" stroke="#800000" stroke-width="2.32" fill="none"/><path d="M115.25 551.2L125.95 560.7" stroke="#800000" stroke-width="2.32" fill="none"/><path d="M225.65 521.5L223.25 535.7" stroke="#800000" stroke-width="2.03" fill="none"/><path d="M223.25 535.7L214.95 550" stroke="#800000" stroke-width="2.32" fill="none"/><path d="M218.55 552.4L227.35 539.3" stroke="#6aff8d" stroke-width="2.61" fill="none"/><path d="M188.35 567.8L201.95 560.7" stroke="#9f0000" stroke-width="2.9" fill="none"/>
<path d="M198.88 388.38L169.92 496.46M229.85 401.2L173.9 498.11M256.44 421.61L177.32 500.73M276.85 448.2L179.94 504.15M289.67 479.17L181.59 508.13M289.67 545.63L181.59 516.67M276.85 576.6L179.94 520.65M256.44 603.19L177.32 524.07M229.85 623.6L173.9 526.69M198.88 636.42L169.92 528.34M132.42 636.42L161.38 528.34M101.45 623.6L157.4 526.69M74.86 603.19L153.98 524.07M54.45 576.6L151.36 520.65M41.63 545.63L149.71 516.67M41.63 479.17L149.71 508.13M54.45 448.2L151.36 504.15M74.86 421.61L153.98 500.73M101.45 401.2L157.4 498.11M132.42 388.38L161.38 496.46" fill="none" stroke="#000" stroke-width="2.4" stroke-linecap="round" stroke-dasharray="0.2 5.36"/><circle cx="165.65" cy="512.4" r="16.07" fill="none" stroke="#000" stroke-width="2.4" stroke-linecap="round" stroke-dasharray="0.2 5.36" stroke-dashoffset="0"/><circle cx="165.65" cy="512.4" r="48.22" fill="none" stroke="#000" stroke-width="2.4" stroke-linecap="round" stroke-dasharray="0.2 5.36" stroke-dashoffset="0"/><circle cx="165.65" cy="512.4" r="80.38" fill="none" stroke="#000" stroke-width="2.4" stroke-linecap="round" stroke-dasharray="0.2 5.36" stroke-dashoffset="1.7"/><circle cx="165.65" cy="512.4" r="112.52" fill="none" stroke="#000" stroke-width="2.4" stroke-linecap="round" stroke-dasharray="0.2 5.36" stroke-dashoffset="0"/><circle cx="165.75" cy="512.7" r="32.6" fill="none" stroke="#000" stroke-width="2.9"/><circle cx="165.95" cy="512.1" r="63.8" fill="none" stroke="#000" stroke-width="2.9"/><circle cx="165.65" cy="512.3" r="96.2" fill="none" stroke="#000" stroke-width="2.9"/><path d="M166.05 383V496.32M166.05 528.48V641.8" stroke="#000" stroke-width="2.1" fill="none"/><path d="M36.25 512.9H149.58M181.72 512.9H295.05" stroke="#000" stroke-width="2.2" fill="none"/>
<polygon points="166.44,465.8 179.72,466.4 191.92,469.5 202.92,473.8 212.73,479.9 221.26,487.3 228,496.6 232.26,505.2 233.65,514.4 234.15,526.4 232.16,538.4 228,549.9 221.26,564.6 213.92,573.9 204.8,581.3 195.58,586.2 186.46,589.9 176.06,592.4 166.44,593.4 154.77,592.4 144.47,590.5 134.41,586.2 125.88,581.3 116.76,573.3 109.43,564.6 102.69,552.9 98.6,542.5 96.3,529.5 96.26,517.4 97.45,508.9 101.11,499 106.66,490.4 113.9,481.8 122.53,476.2 132.24,470.7 143.24,467.6 155.44,466" fill="none" stroke="#bf00bf" stroke-width="2.7" stroke-linejoin="round"/><polygon points="166,469.5 176.91,470.1 187.82,473.2 197.63,478.1 206.16,484.9 212.31,492.9 216.57,501.5 218.36,508.9 218.55,515.4 217.56,525.9 213.5,538.8 208.04,548 201.3,555.4 193.96,561.6 186.63,565.9 179.29,568.4 171.95,569.6 166,570.2 155.43,568.4 146.25,565.9 137.23,560.9 129.89,555.4 122.55,548 117.55,539.4 114.13,528.3 112.45,516.4 112.26,507.6 114.73,499 119.59,490.4 125.74,483 134.27,476.9 143.99,472.5 154.99,470.1" fill="none" stroke="#bf00bf" stroke-width="2.7" stroke-linejoin="round"/>
<text x="52.4" y="524.9" class="lat">60</text>
<text x="85.2" y="524.9" class="lat">70</text>
<text x="114.9" y="524.9" class="lat">80</text>
</g>
<rect x="53.5" y="373.5" width="225" height="280" fill="none" stroke="#000" stroke-width="1.1"/>
<rect x="292.5" y="373.5" width="14" height="280" fill="url(#jet)" stroke="#000" stroke-width="1.1"/>
<path d="M300.3 653.5H306.9" stroke="#000" stroke-width="2.6"/>
<text x="311.9" y="661" class="tk">0</text>
<path d="M300.3 597.5H306.9" stroke="#000" stroke-width="2.6"/>
<text x="311.9" y="605" class="tk">1</text>
<path d="M300.3 541.5H306.9" stroke="#000" stroke-width="2.6"/>
<text x="311.9" y="549" class="tk">2</text>
<path d="M300.3 485.5H306.9" stroke="#000" stroke-width="2.6"/>
<text x="311.9" y="493" class="tk">3</text>
<path d="M300.3 429.5H306.9" stroke="#000" stroke-width="2.6"/>
<text x="311.9" y="437" class="tk">4</text>
<path d="M300.3 373.5H306.9" stroke="#000" stroke-width="2.6"/>
<text x="311.9" y="381" class="tk">5</text>
<text transform="translate(343.9 513.9) rotate(-90)" class="lb" text-anchor="middle" style="letter-spacing:0.07px">occurrence rate (&gt;.1)</text>
<g clip-path="url(#c4)">
<g shape-rendering="crispEdges"><polygon fill="#000080" points="499.4,480.65 489.57,407.12 517.73,407.12 507.9,480.65"/><polygon fill="#000080" points="508.59,474.26 516.05,416.63 540.79,423.26 518.44,476.9"/><polygon fill="#000080" points="515.85,482.78 541.64,420.13 564.56,433.36 523.2,487.03"/><polygon fill="#000080" points="523.1,486.95 568.13,428 588.05,447.92 529.1,492.95"/><polygon fill="#000080" points="529.02,492.85 585.23,449.53 598.89,473.18 533.27,500.2"/><polygon fill="#000080" points="533.22,500.08 592.79,475.26 599.42,500 535.41,508.29"/><polygon fill="#000080" points="535.4,508.15 570.69,503.43 570.69,521.37 535.4,516.65"/><polygon fill="#000080" points="573.64,503.04 608.93,498.32 608.93,526.48 573.64,521.76"/><polygon fill="#000080" points="535.41,516.51 608.99,526.04 601.69,553.25 533.22,524.72"/><polygon fill="#000080" points="533.27,524.6 592.95,549.17 580.14,571.35 529.02,531.95"/><polygon fill="#000080" points="539.32,539.65 585.5,574.93 566.18,594.25 530.9,548.07"/><polygon fill="#000080" points="529.09,545.41 564.56,591.44 541.64,604.67 519.52,550.94"/><polygon fill="#000080" points="520.92,553.84 539.56,598.57 515.64,604.98 509.42,556.92"/><polygon fill="#000080" points="540.7,601.32 544.5,610.44 517.29,617.74 516.02,607.93"/><polygon fill="#000080" points="508.32,547.33 508.78,550.76 498.52,550.76 498.98,547.33"/><polygon fill="#000080" points="510.03,560.08 516.03,604.93 491.27,604.93 497.27,560.08"/><polygon fill="#000080" points="499.12,547.35 492.48,598.6 470.22,592.64 490.09,544.93"/><polygon fill="#000080" points="487.78,550.94 468.11,598.72 446.66,586.34 478.21,545.41"/><polygon fill="#000080" points="482.25,540.41 441.12,594.25 421.8,574.93 475.64,533.8"/><polygon fill="#000080" points="468.09,539.8 422.07,575.27 408.41,551.62 462.14,529.49"/><polygon fill="#000080" points="474.08,524.72 417.48,548.31 411.07,524.39 471.89,516.51"/><polygon fill="#000080" points="465.53,517.5 417.49,523.93 417.49,500.87 465.53,507.3"/><polygon fill="#000080" points="414.54,524.32 398.37,526.48 398.37,498.32 414.54,500.48"/><polygon fill="#000080" points="471.89,508.29 404.69,499.58 411.54,474.02 474.08,500.08"/><polygon fill="#000080" points="474.03,500.2 417.33,476.86 429.71,455.41 478.28,492.85"/><polygon fill="#000080" points="478.2,492.95 421.8,449.87 441.12,430.55 484.2,486.95"/><polygon fill="#000080" points="484.1,487.03 440.78,430.82 464.43,417.16 491.45,482.78"/><polygon fill="#000080" points="488.86,476.9 464.03,417.32 490.42,410.25 498.71,474.26"/></g>
<path d="M543.65 508.4L543.65 522.4" stroke="#fff" stroke-width="1.8" fill="none"/><path d="M543.05 522.4L541.25 526.7" stroke="#fff" stroke-width="1.6" fill="none"/><path d="M544.05 531L546.45 534" stroke="#fff" stroke-width="1.6" fill="none"/><path d="M534.05 478.7L540.25 483.6" stroke="#fff" stroke-width="1.4" fill="none"/><path d="M439.15 487.9L436.25 501.4" stroke="#fff" stroke-width="2.5" fill="none"/><path d="M457.25 495.3L454.15 503.9" stroke="#fff" stroke-width="2.3" fill="none"/><path d="M470.75 538.2L476.95 545.6" stroke="#fff" stroke-width="1.4" fill="none"/><path d="M475.75 549.2L485.55 554.8" stroke="#fff" stroke-width="1.5" fill="none"/><path d="M481.25 567.1L495.45 570.8" stroke="#fff" stroke-width="2.2" fill="none"/><path d="M557.25 472.8L566.05 487.1" stroke="#29ffce" stroke-width="2.61" fill="none"/><path d="M441.35 538.1L449.65 552.4" stroke="#800000" stroke-width="2.32" fill="none"/><path d="M453.25 551.2L463.95 560.7" stroke="#800000" stroke-width="2.32" fill="none"/><path d="M556.55 552.4L565.35 539.3" stroke="#deff19" stroke-width="2.61" fill="none"/><path d="M554.15 548.8L560.05 538.1" stroke="#800000" stroke-width="2.03" fill="none"/>
<path d="M536.38 388.38L507.42 496.46M567.35 401.2L511.4 498.11M593.94 421.61L514.82 500.73M614.35 448.2L517.44 504.15M627.17 479.17L519.09 508.13M627.17 545.63L519.09 516.67M614.35 576.6L517.44 520.65M593.94 603.19L514.82 524.07M567.35 623.6L511.4 526.69M536.38 636.42L507.42 528.34M469.92 636.42L498.88 528.34M438.95 623.6L494.9 526.69M412.36 603.19L491.48 524.07M391.95 576.6L488.86 520.65M379.13 545.63L487.21 516.67M379.13 479.17L487.21 508.13M391.95 448.2L488.86 504.15M412.36 421.61L491.48 500.73M438.95 401.2L494.9 498.11M469.92 388.38L498.88 496.46" fill="none" stroke="#000" stroke-width="2.4" stroke-linecap="round" stroke-dasharray="0.2 5.36"/><circle cx="503.15" cy="512.4" r="16.07" fill="none" stroke="#000" stroke-width="2.4" stroke-linecap="round" stroke-dasharray="0.2 5.36" stroke-dashoffset="0"/><circle cx="503.15" cy="512.4" r="48.22" fill="none" stroke="#000" stroke-width="2.4" stroke-linecap="round" stroke-dasharray="0.2 5.36" stroke-dashoffset="0"/><circle cx="503.15" cy="512.4" r="80.38" fill="none" stroke="#000" stroke-width="2.4" stroke-linecap="round" stroke-dasharray="0.2 5.36" stroke-dashoffset="1.7"/><circle cx="503.15" cy="512.4" r="112.52" fill="none" stroke="#000" stroke-width="2.4" stroke-linecap="round" stroke-dasharray="0.2 5.36" stroke-dashoffset="0"/><circle cx="503.25" cy="512.7" r="32.6" fill="none" stroke="#000" stroke-width="2.9"/><circle cx="503.45" cy="512.1" r="63.8" fill="none" stroke="#000" stroke-width="2.9"/><circle cx="503.15" cy="512.3" r="96.2" fill="none" stroke="#000" stroke-width="2.9"/><path d="M503.55 383V496.32M503.55 528.48V641.8" stroke="#000" stroke-width="2.1" fill="none"/><path d="M373.75 512.9H487.07M519.23 512.9H632.55" stroke="#000" stroke-width="2.2" fill="none"/>
<polygon points="503.94,465.8 517.22,466.4 529.42,469.5 540.42,473.8 550.23,479.9 558.76,487.3 565.5,496.6 569.76,505.2 571.15,514.4 571.65,526.4 569.66,538.4 565.5,549.9 558.76,564.6 551.42,573.9 542.3,581.3 533.08,586.2 523.96,589.9 513.56,592.4 503.94,593.4 492.27,592.4 481.97,590.5 471.91,586.2 463.38,581.3 454.26,573.3 446.93,564.6 440.19,552.9 436.1,542.5 433.8,529.5 433.76,517.4 434.95,508.9 438.61,499 444.16,490.4 451.4,481.8 460.03,476.2 469.74,470.7 480.74,467.6 492.94,466" fill="none" stroke="#bf00bf" stroke-width="2.7" stroke-linejoin="round"/><polygon points="503.5,469.5 514.41,470.1 525.32,473.2 535.13,478.1 543.66,484.9 549.81,492.9 554.07,501.5 555.86,508.9 556.05,515.4 555.06,525.9 551,538.8 545.54,548 538.8,555.4 531.46,561.6 524.13,565.9 516.79,568.4 509.45,569.6 503.5,570.2 492.93,568.4 483.75,565.9 474.73,560.9 467.39,555.4 460.05,548 455.05,539.4 451.63,528.3 449.95,516.4 449.76,507.6 452.23,499 457.09,490.4 463.24,483 471.77,476.9 481.49,472.5 492.49,470.1" fill="none" stroke="#bf00bf" stroke-width="2.7" stroke-linejoin="round"/>
<text x="390.4" y="524.9" class="lat">60</text>
<text x="423.2" y="524.9" class="lat">70</text>
<text x="452.9" y="524.9" class="lat">80</text>
</g>
<rect x="391.5" y="373.5" width="225" height="280" fill="none" stroke="#000" stroke-width="1.1"/>
<rect x="631.5" y="373.5" width="14" height="280" fill="url(#jet)" stroke="#000" stroke-width="1.1"/>
<path d="M639.3 653.5H645.9" stroke="#000" stroke-width="2.6"/>
<text x="649.7" y="661" class="tk">0.0</text>
<path d="M639.3 583.5H645.9" stroke="#000" stroke-width="2.6"/>
<text x="649.7" y="591" class="tk">0.5</text>
<path d="M639.3 513.5H645.9" stroke="#000" stroke-width="2.6"/>
<text x="649.7" y="521" class="tk">1.0</text>
<path d="M639.3 443.5H645.9" stroke="#000" stroke-width="2.6"/>
<text x="649.7" y="451" class="tk">1.5</text>
<path d="M639.3 373.5H645.9" stroke="#000" stroke-width="2.6"/>
<text x="649.7" y="381" class="tk">2.0</text>
<text transform="translate(704 513.9) rotate(-90)" class="lb" text-anchor="middle" style="letter-spacing:0.07px">occurrence rate (&gt;.15)</text>
<text x="11.2" y="29" class="ti">S4-Day-20160319.1Hz</text>
</svg>
</body></html>
